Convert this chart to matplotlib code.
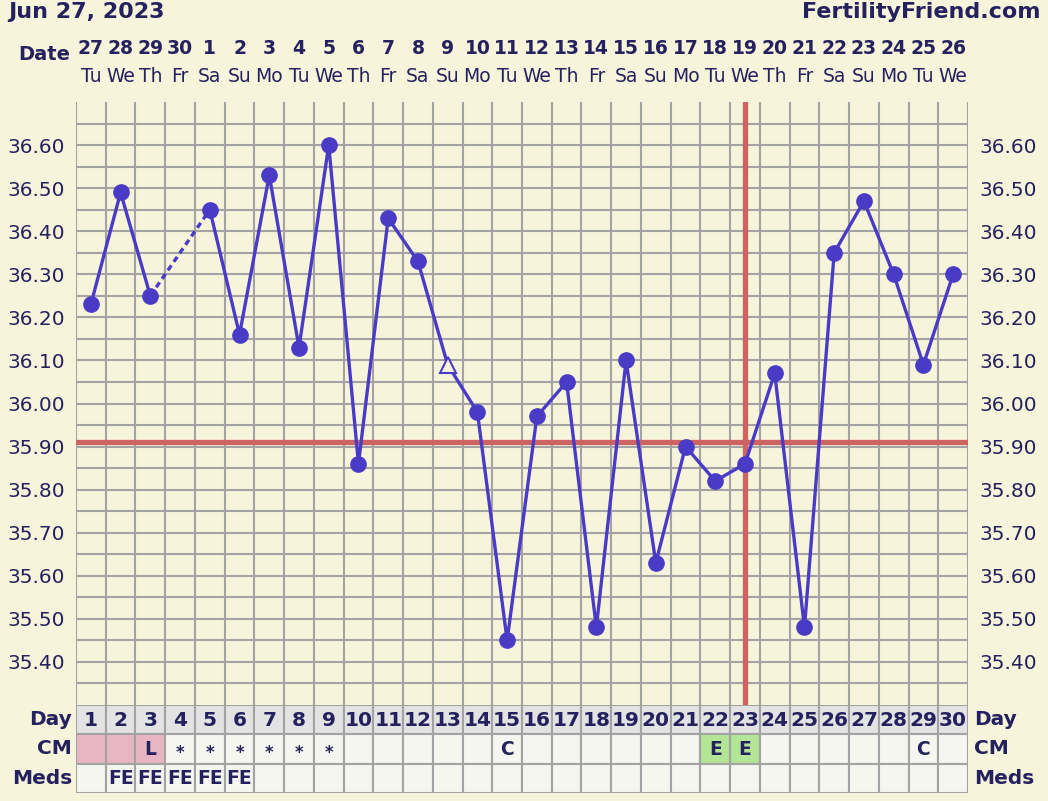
import numpy as np
import matplotlib
matplotlib.use("Agg")
import matplotlib.pyplot as plt
from matplotlib.patches import Rectangle

# chart data
title_left = "Jun 27, 2023"
title_right = "FertilityFriend.com"
cycle_days = list(range(1, 31))
dates = ["27", "28", "29", "30", "1", "2", "3", "4", "5", "6", "7", "8", "9", "10", "11",
         "12", "13", "14", "15", "16", "17", "18", "19", "20", "21", "22", "23", "24", "25", "26"]
weekdays = ["Tu", "We", "Th", "Fr", "Sa", "Su", "Mo"] * 5
weekdays = weekdays[:30]
temps = [36.23, 36.49, 36.25, None, 36.45, 36.16, 36.53, 36.13, 36.60, 35.86,
         36.43, 36.33, 36.09, 35.98, 35.45, 35.97, 36.05, 35.48, 36.10, 35.63,
         35.90, 35.82, 35.86, 36.07, 35.48, 36.35, 36.47, 36.30, 36.09, 36.30]
open_days = [13]  # hollow triangle marker
coverline = 35.91
ovulation_day = 23
cm = {3: "L", 4: "*", 5: "*", 6: "*", 7: "*", 8: "*", 9: "*", 15: "C", 22: "E", 23: "E", 29: "C"}
cm_pink = [1, 2, 3]
cm_green = [22, 23]
meds = {2: "FE", 3: "FE", 4: "FE", 5: "FE", 6: "FE"}
y_ticks = [35.40, 35.50, 35.60, 35.70, 35.80, 35.90, 36.00, 36.10, 36.20, 36.30, 36.40, 36.50, 36.60]

bg = "#f7f4dc"
navy = "#24215e"
grid_c = "#a3a3a3"
line_c = "#4a3bc6"
red_c = "#cd6363"

W, H = 1048, 801
fig = plt.figure(figsize=(W / 100, H / 100), dpi=100, facecolor=bg)

def px_axes(x0, y0, x1, y1):
    return fig.add_axes([x0 / W, 1 - y1 / H, (x1 - x0) / W, (y1 - y0) / H])

# main chart
ax = px_axes(76, 102, 968, 705)
ax.set_facecolor(bg)
ax.set_xlim(0.5, 30.5)
ax.set_ylim(35.30, 36.70)
for s in ax.spines.values():
    s.set_visible(False)

for k in range(31):
    ax.axvline(0.5 + k, color=grid_c, lw=1.5, zorder=1)
for v in np.arange(35.35, 36.66, 0.05):
    ax.axhline(v, color=grid_c, lw=1.5, zorder=1)

ax.set_xticks([])
ax.set_yticks(y_ticks)
ax.set_yticklabels([f"{v:.2f}" for v in y_ticks])
ax.tick_params(axis="y", length=0, labelsize=14.5, labelcolor=navy, pad=8,
               labelleft=True, labelright=True)

ax.axhline(coverline, color=red_c, lw=3.8, zorder=2)
ax.axvline(ovulation_day, color=red_c, lw=3.8, zorder=2)

x = np.array(cycle_days, dtype=float)
y = np.array([np.nan if t is None else t for t in temps])
ax.plot(x, y, color=line_c, lw=2.4, zorder=3, solid_capstyle="round")

# dashed bridge over missing days
valid = [i for i, t in enumerate(temps) if t is not None]
for a, b in zip(valid[:-1], valid[1:]):
    if b - a > 1:
        ax.plot([x[a], x[b]], [y[a], y[b]], color=line_c, lw=2.4, ls=(0, (1.8, 1.3)), zorder=3)

closed = [i for i in valid if cycle_days[i] not in open_days]
hollow = [i for i in valid if cycle_days[i] in open_days]
ax.plot(x[closed], y[closed], "o", ms=11, color=line_c, zorder=4, ls="none")
ax.plot(x[hollow], y[hollow], "^", ms=11, mfc=bg, mec=line_c, mew=1.5, zorder=4, ls="none")

# header
fig.text(8 / W, 1 - 12 / H, title_left, fontsize=16, fontweight="bold", color=navy,
         ha="left", va="center")
fig.text(1040 / W, 1 - 12 / H, title_right, fontsize=16, fontweight="bold", color=navy,
         ha="right", va="center")
fig.text(70 / W, 1 - 54 / H, "Date", fontsize=14, fontweight="bold", color=navy,
         ha="right", va="center")
for d, ds, wd in zip(cycle_days, dates, weekdays):
    xp = (76 + (d - 0.5) * (892 / 30)) / W
    fig.text(xp, 1 - 48 / H, ds, fontsize=13.5, fontweight="bold", color=navy,
             ha="center", va="center")
    fig.text(xp, 1 - 77 / H, wd, fontsize=13.5, color=navy, ha="center", va="center")

# bottom table
tb = px_axes(76, 705, 968, 793)
tb.set_xlim(0.5, 30.5)
tb.set_ylim(3, 0)
tb.axis("off")
for d in cycle_days:
    rows = [("#e3e3e3", str(d)),
            ("#e8b5c3" if d in cm_pink else "#b3e596" if d in cm_green else "#f6f6f0", cm.get(d, "")),
            ("#f6f6f0", meds.get(d, ""))]
    for r, (fc, txt) in enumerate(rows):
        tb.add_patch(Rectangle((d - 0.5, r), 1, 1, facecolor=fc, edgecolor=grid_c, lw=1.5))
        if txt:
            fs = 14.5 if r == 0 else (12 if txt == "*" else 13.5)
            dy = 0.62 if txt == "*" else 0.52
            tb.text(d, r + dy, txt, fontsize=fs, fontweight="bold", color=navy,
                    ha="center", va="center")

for r, lab in enumerate(["Day", "CM", "Meds"]):
    yp = 1 - (705 + 88 * (r + 0.5) / 3) / H
    fig.text(72 / W, yp, lab, fontsize=14.5, fontweight="bold", color=navy, ha="right", va="center")
    fig.text(974 / W, yp, lab, fontsize=14.5, fontweight="bold", color=navy, ha="left", va="center")

fig.savefig("out.png", dpi=100, facecolor=bg)
